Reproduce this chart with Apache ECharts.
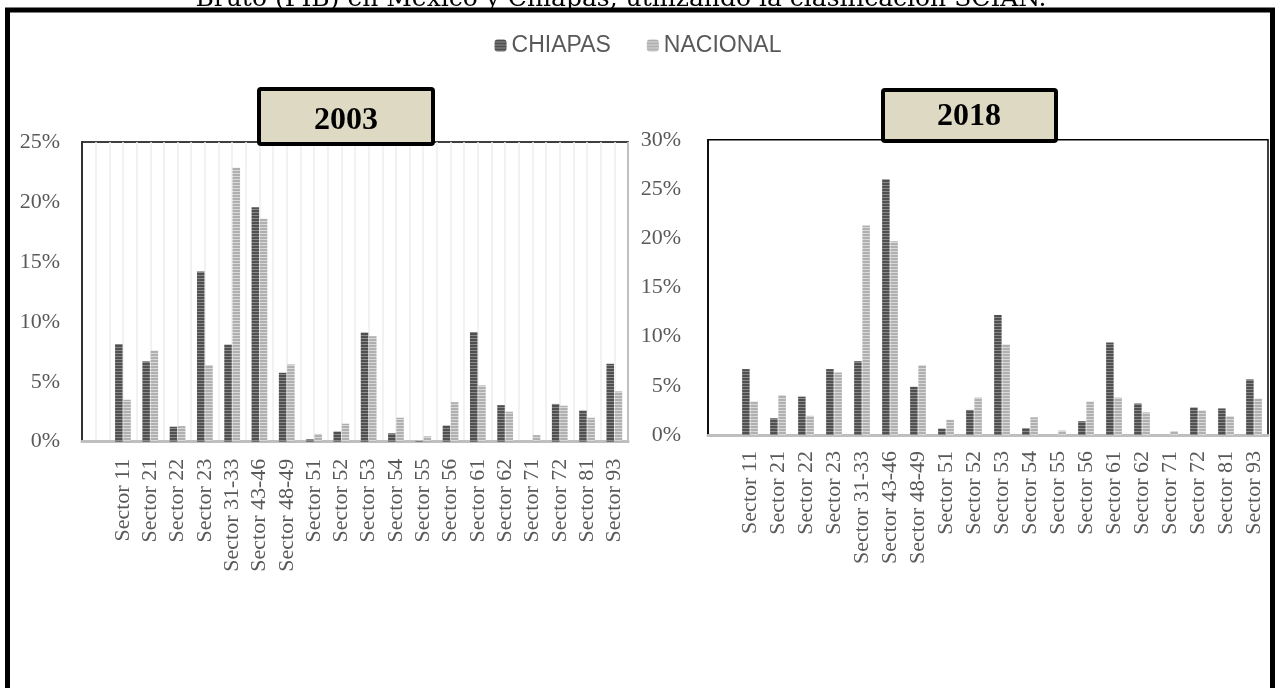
<!DOCTYPE html>
<html>
<head>
<meta charset="utf-8">
<script src="https://cdn.jsdelivr.net/npm/echarts@6/dist/echarts.min.js"></script>
<style>
html,body{margin:0;padding:0;background:#fff;}
#chart{width:1276px;height:688px;}
</style>
</head>
<body>
<div id="chart"></div>
<script>
const sectors = ['Sector 11','Sector 21','Sector 22','Sector 23','Sector 31-33','Sector 43-46','Sector 48-49','Sector 51','Sector 52','Sector 53','Sector 54','Sector 55','Sector 56','Sector 61','Sector 62','Sector 71','Sector 72','Sector 81','Sector 93'];
const chiapas2003 = [8.15, 6.7, 1.25, 14.2, 8.1, 19.55, 5.75, 0.2, 0.85, 9.1, 0.7, 0.05, 1.35, 9.15, 3.05, 0.0, 3.15, 2.6, 6.5];
const nacional2003 = [3.5, 7.6, 1.3, 6.4, 22.85, 18.6, 6.45, 0.65, 1.5, 8.8, 2.0, 0.45, 3.3, 4.7, 2.5, 0.55, 3.0, 2.0, 4.2];
const chiapas2018 = [6.7, 1.7, 3.9, 6.7, 7.5, 26.0, 4.9, 0.65, 2.55, 12.2, 0.7, 0.0, 1.4, 9.4, 3.2, 0.0, 2.8, 2.7, 5.65];
const nacional2018 = [3.4, 4.05, 1.95, 6.35, 21.3, 19.7, 7.1, 1.55, 3.8, 9.2, 1.8, 0.45, 3.4, 3.8, 2.3, 0.4, 2.5, 1.9, 3.7];
const seriesNames = ['CHIAPAS', 'NACIONAL'];
const panelTitles = ['2003', '2018'];
const pageTitle = 'Bruto (PIB) en México y Chiapas, utilizando la clasificación SCIAN.';

function stripe(c1, c2) {
  const cv = document.createElement('canvas');
  cv.width = 4; cv.height = 3;
  const ctx = cv.getContext('2d');
  ctx.fillStyle = c1; ctx.fillRect(0, 0, 4, 2);
  ctx.fillStyle = c2; ctx.fillRect(0, 2, 4, 1);
  return { image: cv, repeat: 'repeat' };
}
const darkFill = stripe('#505050', '#8a8a8a');
const lightFill = stripe('#b0b0b0', '#d8d8d8');

const axisCats = [''].concat(sectors);
const gridCats = [];
for (let i = 0; i < axisCats.length * 2; i++) gridCats.push(String(i));

const textGray = '#595959';
const serif = '"Liberation Serif", "DejaVu Serif", serif';

function xAxisFor(gi, margin) {
  return {
    type: 'category', gridIndex: gi, data: axisCats,
    axisLine: { show: true, lineStyle: { color: '#bfbfbf', width: 3 } },
    axisTick: { show: false },
    axisLabel: { rotate: 90, interval: 0, margin: margin, color: textGray, fontFamily: serif, fontSize: 22 },
    splitLine: { show: false }
  };
}
function yAxisFor(gi, max, margin) {
  return {
    type: 'value', gridIndex: gi, min: 0, max: max, interval: 5,
    axisLine: { show: true, lineStyle: { color: '#000', width: 1.5 } },
    axisTick: { show: false },
    splitLine: { show: false },
    axisLabel: { margin: margin, color: textGray, fontFamily: serif, fontSize: 22, formatter: v => v + '%' }
  };
}
function bar(name, data, gi, fill) {
  return {
    name: name, type: 'bar', xAxisIndex: gi, yAxisIndex: gi,
    data: [null].concat(data), barWidth: 7.5, barGap: '10%',
    itemStyle: { color: fill }, silent: true
  };
}

const chart = echarts.init(document.getElementById('chart'), null, { renderer: 'canvas' });
chart.setOption({
  animation: false,
  backgroundColor: '#fff',
  legend: {
    data: seriesNames, top: 29, left: 'center', itemWidth: 12, itemHeight: 12, itemGap: 36,
    textStyle: { color: textGray, fontSize: 23, fontFamily: '"Liberation Sans Narrow", "Liberation Sans", sans-serif' }
  },
  grid: [
    { left: 82, top: 142, width: 546, height: 299.7, show: true, borderColor: '#000', borderWidth: 1.5, backgroundColor: 'transparent' },
    { left: 708, top: 139.8, width: 560, height: 295.2, show: true, borderColor: '#000', borderWidth: 1.5, backgroundColor: 'transparent' }
  ],
  xAxis: [
    xAxisFor(0, 17), xAxisFor(1, 16),
    { type: 'category', gridIndex: 0, data: gridCats, position: 'top',
      axisLine: { show: false }, axisTick: { show: false }, axisLabel: { show: false },
      splitLine: { show: true, interval: 0, lineStyle: { color: '#eeeeee', width: 1.5 } } }
  ],
  yAxis: [yAxisFor(0, 25, 22), yAxisFor(1, 30, 27)],
  series: [
    bar(seriesNames[0], chiapas2003, 0, darkFill),
    bar(seriesNames[1], nacional2003, 0, lightFill),
    bar(seriesNames[0], chiapas2018, 1, darkFill),
    bar(seriesNames[1], nacional2018, 1, lightFill)
  ],
  graphic: [
    { type: 'text', z: 50, style: { text: pageTitle, x: 621, y: 12, textAlign: 'center', textVerticalAlign: 'bottom', font: '25px "DejaVu Serif", serif', fill: '#000' } },
    { type: 'rect', z: 60, shape: { x: 7.5, y: 10, width: 1265, height: 700 }, style: { fill: 'none', stroke: '#000', lineWidth: 5 } },
    { type: 'rect', z: 100, shape: { x: 259, y: 89, width: 174, height: 55, r: 2 }, style: { fill: '#ddd9c3', stroke: '#000', lineWidth: 4 } },
    { type: 'text', z: 101, style: { text: panelTitles[0], x: 346, y: 121, textAlign: 'center', textVerticalAlign: 'middle', font: 'bold 32px "Liberation Serif", serif', fill: '#000' } },
    { type: 'rect', z: 100, shape: { x: 883, y: 90, width: 173, height: 51, r: 2 }, style: { fill: '#ddd9c3', stroke: '#000', lineWidth: 4 } },
    { type: 'text', z: 101, style: { text: panelTitles[1], x: 969, y: 117, textAlign: 'center', textVerticalAlign: 'middle', font: 'bold 32px "Liberation Serif", serif', fill: '#000' } }
  ]
});
</script>
</body>
</html>
